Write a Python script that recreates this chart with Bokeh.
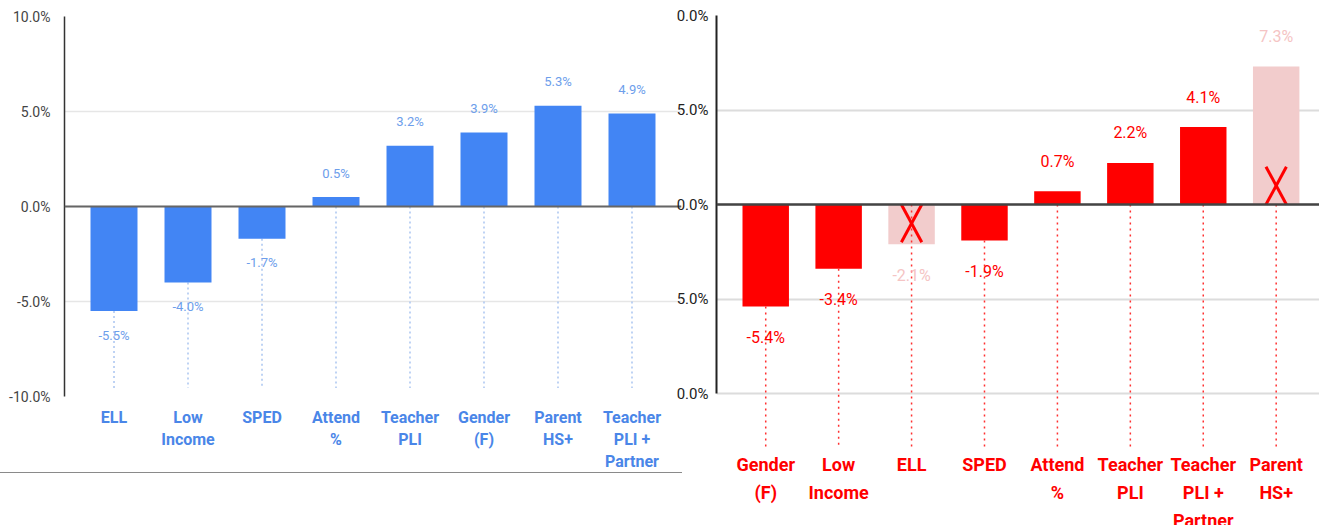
from bokeh.plotting import figure
from bokeh.layouts import row
from bokeh.models import Range1d, FixedTicker, Span, ColumnDataSource
from bokeh.core.properties import value
from bokeh.embed import file_html
from bokeh.resources import INLINE

# ---------------- data ----------------
left_categories = ["ELL", "Low\nIncome", "SPED", "Attend\n%", "Teacher\nPLI",
                   "Gender\n(F)", "Parent\nHS+", "Teacher\nPLI +\nPartner"]
left_values = [-5.5, -4.0, -1.7, 0.5, 3.2, 3.9, 5.3, 4.9]

right_categories = ["Gender\n(F)", "Low\nIncome", "ELL", "SPED", "Attend\n%",
                    "Teacher\nPLI", "Teacher\nPLI +\nPartner", "Parent\nHS+"]
right_values = [-5.4, -3.4, -2.1, -1.9, 0.7, 2.2, 4.1, 7.3]
right_excluded = [False, False, True, False, False, False, False, True]

y_ticks = [-10, -5, 0, 5, 10]
left_y_tick_labels = ["-10.0%", "-5.0%", "0.0%", "5.0%", "10.0%"]
right_y_tick_labels = ["0.0%", "5.0%", "0.0%", "5.0%", "0.0%"]  # as visible (cropped)

# ---------------- style constants ----------------
BLUE = "#4285f4"
BLUE_LABEL = "#4a86e8"
BLUE_VALUE = "#6d9eeb"
RED = "#ff0000"
PINK = "#f2cccc"
PINK_TEXT = "#f5c4c4"
RFONT = "Roboto"

# ---------------- left chart ----------------
n = len(left_values)
xs = list(range(n))
L = figure(width=682, height=473, x_range=Range1d(-0.669, 7.669), y_range=Range1d(-10, 10),
           output_backend="svg", toolbar_location=None, frame_align=False,
           min_border_left=64, min_border_right=1, min_border_top=16, min_border_bottom=76)
L.outline_line_color = None
L.background_fill_color = "white"
L.border_fill_color = "white"
L.xgrid.grid_line_color = None
L.ygrid.grid_line_color = "#e6e6e6"
L.ygrid.grid_line_width = 1.5
L.ygrid.ticker = FixedTicker(ticks=y_ticks)

L.yaxis.ticker = FixedTicker(ticks=y_ticks)
L.yaxis.major_label_overrides = {t: s for t, s in zip(y_ticks, left_y_tick_labels)}
L.yaxis.axis_line_color = "#333333"
L.yaxis.axis_line_width = 1.5
L.yaxis.major_tick_line_color = None
L.yaxis.minor_tick_line_color = None
L.yaxis.major_label_standoff = 8
L.yaxis.major_label_text_font = "Roboto"
L.yaxis.major_label_text_font_size = "14px"
L.yaxis.major_label_text_color = "#444444"

L.xaxis.ticker = FixedTicker(ticks=xs)
L.xaxis.major_label_overrides = {i: c for i, c in enumerate(left_categories)}
L.xaxis.axis_line_color = None
L.xaxis.major_tick_line_color = None
L.xaxis.minor_tick_line_color = None
L.xaxis.major_label_standoff = 5
L.xaxis.major_label_text_font = "Roboto"
L.xaxis.major_label_text_font_style = "bold"
L.xaxis.major_label_text_font_size = "16px"
L.xaxis.major_label_text_color = BLUE_LABEL
L.xaxis.major_label_text_line_height = 1.165

left_dot_bottom = -9.55
lsrc = ColumnDataSource(dict(
    x=xs, v=left_values,
    y0=[min(v, 0) for v in left_values],
    y1=[left_dot_bottom] * n,
    lab=[f"{v:.1f}%" for v in left_values],
    off=[-24 if v > 0 else 24 for v in left_values],
))
L.segment(x0="x", y0="y0", x1="x", y1="y1", source=lsrc,
          line_color="#a9c4f0", line_width=1.5, line_dash="2 3")
L.vbar(x="x", top="v", bottom=0, width=0.635, source=lsrc,
       fill_color=BLUE, line_color=None)
L.add_layout(Span(location=0, dimension="width", line_color="#666666", line_width=2))
L.text(x="x", y="v", text="lab", y_offset="off", source=lsrc,
       text_align="center", text_baseline="middle",
       text_font=value("Roboto"), text_font_size="13px", text_color=BLUE_VALUE)
L.styles = {"border-bottom": "1.5px solid #8a8a8a"}

# ---------------- right chart ----------------
m = len(right_values)
rx = list(range(m))
r_dot_bottom = -12.9
X_HALF_W = 0.14     # half width of the red X marks (category units)
X_HEIGHT = 2.0      # height of the red X marks (percent units)
R = figure(width=646, height=525, x_range=Range1d(-0.675, 7.594), y_range=Range1d(-16.98, 10),
           output_backend="svg", toolbar_location=None, frame_align=False,
           min_border_left=40, min_border_right=0, min_border_top=15, min_border_bottom=0)
R.outline_line_color = None
R.background_fill_color = "white"
R.border_fill_alpha = 0
R.xaxis.visible = False
R.xgrid.grid_line_color = None
R.ygrid.ticker = FixedTicker(ticks=y_ticks)
R.ygrid.grid_line_color = "#dcdcdc"
R.ygrid.grid_line_width = 2
R.styles = {"margin-left": "-9px"}

R.yaxis.ticker = FixedTicker(ticks=y_ticks)
R.yaxis.bounds = (y_ticks[0], y_ticks[-1])
R.yaxis.major_label_overrides = {t: s for t, s in zip(y_ticks, right_y_tick_labels)}
R.yaxis.axis_line_color = "#222222"
R.yaxis.axis_line_width = 2
R.yaxis.major_tick_line_color = None
R.yaxis.minor_tick_line_color = None
R.yaxis.major_tick_out = 0
R.yaxis.minor_tick_out = 0
R.yaxis.major_label_standoff = 8
R.yaxis.major_label_text_font = RFONT
R.yaxis.major_label_text_font_size = "15px"
R.yaxis.major_label_text_color = "#222222"

rsrc = ColumnDataSource(dict(
    x=rx, v=right_values,
    fill=[PINK if e else RED for e in right_excluded],
    tcol=[PINK_TEXT if e else RED for e in right_excluded],
    y0=[0 if e else min(v, 0) for v, e in zip(right_values, right_excluded)],
    y1=[r_dot_bottom] * m,
    lab=[f"{v:.1f}%" for v in right_values],
    off=[-30 if v > 0 else 31 for v in right_values],
))
R.vbar(x="x", top="v", bottom=0, width=0.637, source=rsrc,
       fill_color="fill", line_color=None)
R.segment(x0="x", y0="y0", x1="x", y1="y1", source=rsrc,
          line_color="#ff3030", line_width=1.5, line_dash="2 4")
R.add_layout(Span(location=0, dimension="width", line_color="#444444", line_width=2.5))
R.text(x="x", y="v", text="lab", y_offset="off", source=rsrc,
       text_align="center", text_baseline="middle",
       text_font=value(RFONT), text_font_size="16px", text_color="tcol")

# red X marks over excluded bars: two strokes from the zero line
ex_x = [x for x, e in zip(rx, right_excluded) if e]
ex_s = [1 if v > 0 else -1 for v, e in zip(right_values, right_excluded) if e]
R.segment(x0=[x - X_HALF_W for x in ex_x], y0=[0] * len(ex_x),
          x1=[x + X_HALF_W for x in ex_x], y1=[s * X_HEIGHT for s in ex_s],
          line_color=RED, line_width=3)
R.segment(x0=[x + X_HALF_W for x in ex_x], y0=[0] * len(ex_x),
          x1=[x - X_HALF_W for x in ex_x], y1=[s * X_HEIGHT for s in ex_s],
          line_color=RED, line_width=3)

# category labels (drawn inside the extended frame so the third line is cut at the edge)
cx, cy, ct, co = [], [], [], []
for i, c in enumerate(right_categories):
    for j, line in enumerate(c.split("\n")):
        cx.append(i)
        cy.append(r_dot_bottom)
        ct.append(line)
        co.append(16 + 28 * j)
R.text(x=cx, y=cy, text=ct, y_offset=co, text_align="center", text_baseline="middle",
       text_font=value(RFONT), text_font_style="bold", text_font_size="18px", text_color=RED)

layout = row(L, R, spacing=0)
open("out.html", "w").write(file_html(layout, INLINE))
